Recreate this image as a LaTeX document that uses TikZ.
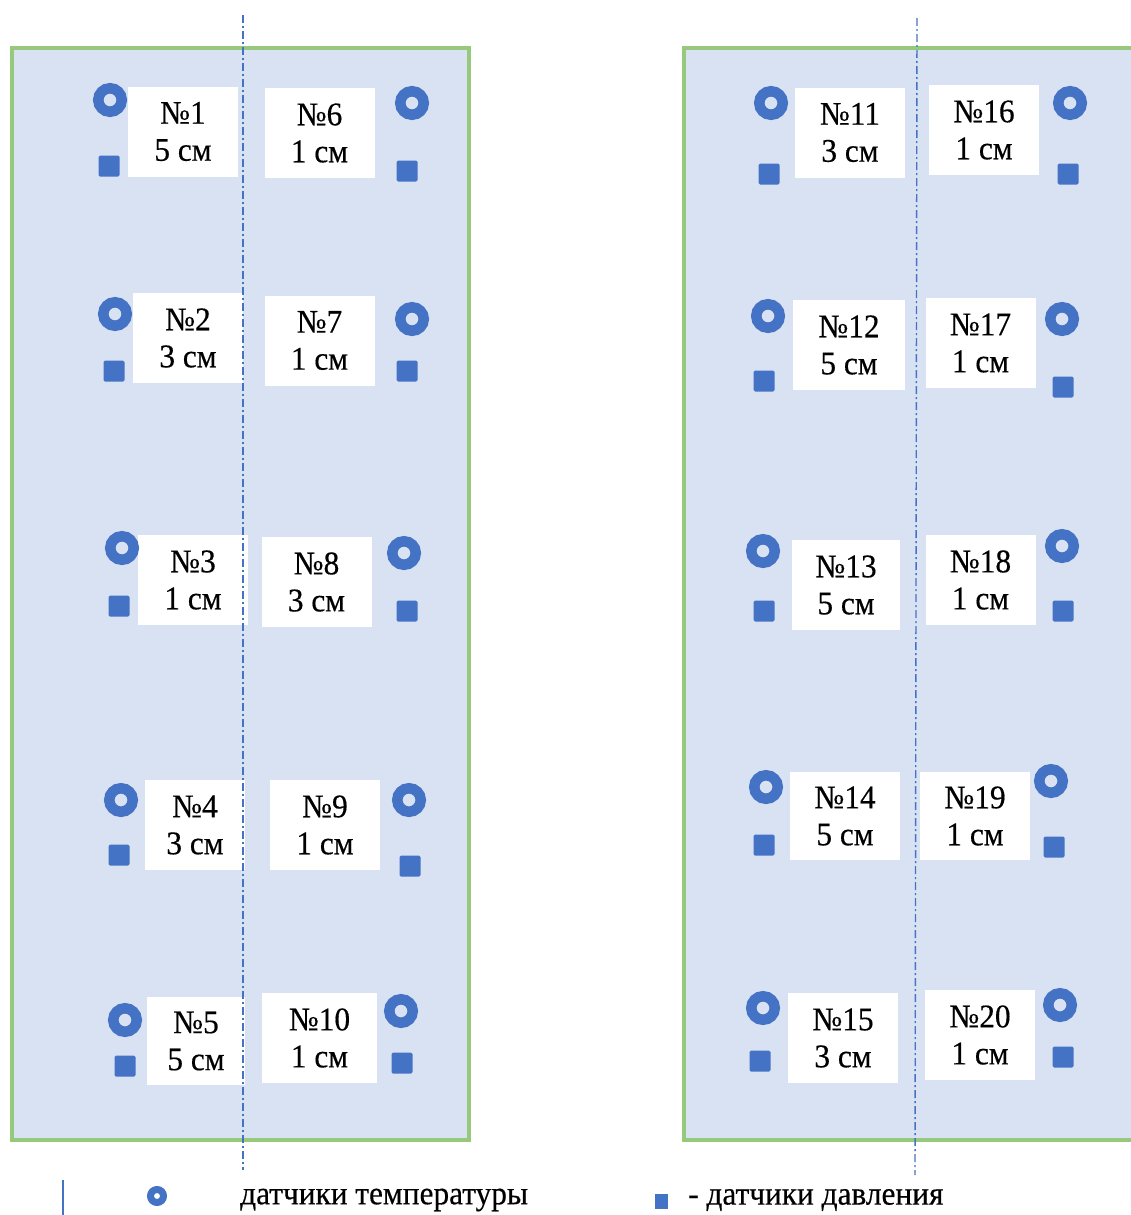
\documentclass[tikz,border=0pt]{standalone}
\usepackage{fontspec}
\setmainfont{Liberation Serif}[FakeStretch=0.95,FakeBold=0.4]
\begin{document}
\begin{tikzpicture}[x=1pt,y=-1pt,
  field/.style={fill=fieldfill,draw=edgegreen,line width=3.4pt},
  axisline/.style={draw=sensorblue,line width=1.4pt,dash pattern=on 8pt off 3pt on 2pt off 3pt},
  tag/.style={fill=white,draw=none,inner sep=0pt,minimum width=110pt,minimum height=90pt,
    align=center,font=\fontsize{33}{37}\selectfont},
  tsensor/.style={circle,draw=sensorblue,line width=10.5pt,minimum size=23.5pt,inner sep=0pt},
  psensor/.style={rectangle,fill=sensorblue,rounded corners=1.5pt,minimum size=21pt,inner sep=0pt},
  legtext/.style={anchor=west,inner sep=0pt,font=\fontsize{33}{37}\selectfont}]
\definecolor{fieldfill}{HTML}{D9E2F3}
\definecolor{edgegreen}{HTML}{97C97C}
\definecolor{sensorblue}{HTML}{4472C4}
\useasboundingbox (0,0) rectangle (1130,1215);

% two test fields
\path[field] (12,48) rectangle (469,1140);
\path[field] (684,48) rectangle (1145,1140);

% labelled sample cells
\node[tag] (b1)  at (183,131.5) {№1\\5 см};
\node[tag] (b6)  at (319.5,133) {№6\\1 см};
\node[tag] (b2)  at (188,338) {№2\\3 см};
\node[tag] (b7)  at (319.5,340.5) {№7\\1 см};
\node[tag] (b3)  at (193,580) {№3\\1 см};
\node[tag] (b8)  at (316.5,582) {№8\\3 см};
\node[tag,minimum width=100pt] (b4)  at (195,825) {№4\\3 см};
\node[tag] (b9)  at (325,825) {№9\\1 см};
\node[tag,minimum width=98pt,minimum height=88pt] (b5)  at (196,1041) {№5\\5 см};
\node[tag,minimum width=115pt] (b10) at (319.5,1038) {№10\\1 см};

\node[tag] (b11) at (850,132.5) {№11\\3 см};
\node[tag] (b16) at (984,130) {№16\\1 см};
\node[tag,minimum width=112pt] (b12) at (849,345) {№12\\5 см};
\node[tag] (b17) at (980.5,343) {№17\\1 см};
\node[tag,minimum width=108pt] (b13) at (846,585) {№13\\5 см};
\node[tag] (b18) at (980.5,580) {№18\\1 см};
\node[tag,minimum height=88pt] (b14) at (845,816) {№14\\5 см};
\node[tag,minimum height=88pt] (b19) at (975,816) {№19\\1 см};
\node[tag] (b15) at (843,1038) {№15\\3 см};
\node[tag] (b20) at (980,1035) {№20\\1 см};

% symmetry axes
\coordinate (la) at (243,15);
\coordinate (lb) at (243,1170);
\coordinate (ra) at (917,18);
\coordinate (rb) at (915,1175);
\draw[axisline] (la) -- (lb);
\draw[axisline] (ra) -- (rb);

% temperature sensors (rings) and pressure sensors (squares)
\foreach \n/\cx/\cy/\sx/\sy in {
  1/110/100/109/166, 6/412/103/407/171,
  2/115/314/114/371, 7/412/319/407/371,
  3/122/548/119/606, 8/404/553/407/611,
  4/121/800/119/855, 9/409/800/410/866,
  5/125/1020/125/1066, 10/401/1011/402/1063,
  11/771/103/769/174, 16/1070/103/1068/174,
  12/768/316/764/381, 17/1062/319/1063/387,
  13/763/551/764/611, 18/1062/546/1063/611,
  14/766/787/764/845, 19/1051/781/1054/847,
  15/763/1008/760/1061, 20/1060/1005/1063/1057}{
  \node[tsensor] (t\n) at (\cx,\cy) {};
  \node[psensor] (p\n) at (\sx,\sy) {};
}

% legend
\coordinate (mk1) at (63,1180);
\coordinate (mk2) at (63,1215);
\draw[sensorblue,line width=1.4pt] (mk1) -- (mk2);
\node[circle,draw=sensorblue,line width=7pt,minimum size=13pt,inner sep=0pt] (lt) at (157,1196) {};
\node[legtext] (ltt) at (240,1200) {датчики температуры};
\node[rectangle,fill=sensorblue,minimum width=13pt,minimum height=15pt,inner sep=0pt] (lp) at (661,1201) {};
\node[legtext] (lpt) at (688,1200) {- датчики давления};
\end{tikzpicture}
\end{document}
